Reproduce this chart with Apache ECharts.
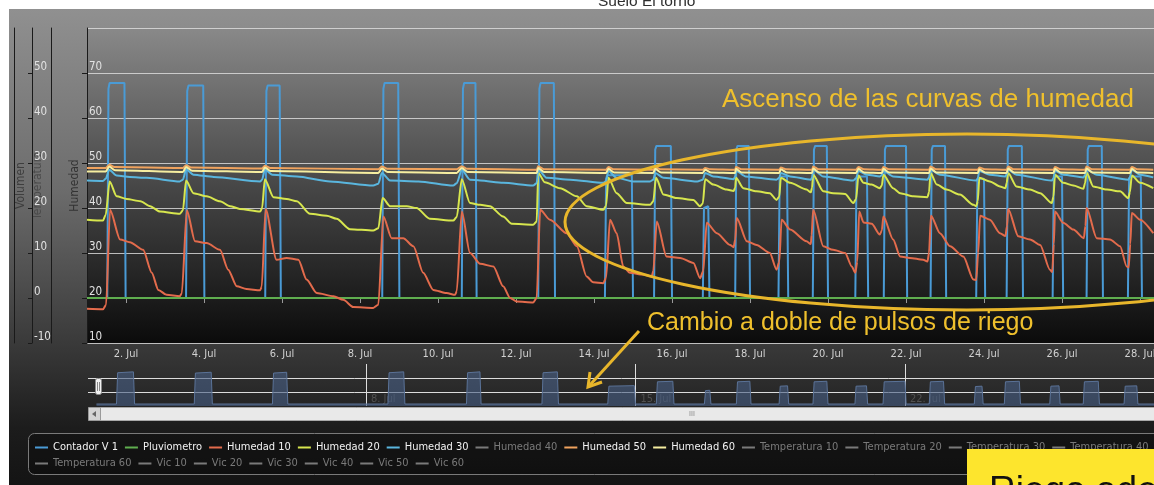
<!DOCTYPE html>
<html>
<head>
<meta charset="utf-8">
<script src="https://cdn.jsdelivr.net/npm/echarts@6.0.0/dist/echarts.min.js"></script>
<style>
  html, body { margin: 0; padding: 0; background: #ffffff; width: 1154px; height: 485px; overflow: hidden; }
  #panel { position: absolute; left: 9px; top: 9px; width: 1145px; height: 476px;
           background: linear-gradient(to bottom, #909090 0%, #6c6c6c 38%, #3a3a3a 70%, #1c1c1c 88%, #141414 100%); }
  #chart { position: absolute; left: 0; top: 0; width: 1154px; height: 485px; }
</style>
</head>
<body>
<div id="panel"></div>
<div id="chart"></div>
<script>
// ---- DATA (x = day of July, e.g. 1.5 = 1 Jul 12:00) ----
const xTickDays = [2, 4, 6, 8, 10, 12, 14, 16, 18, 20, 22, 24, 26, 28];
const navTickDays = [8, 15, 22];

const contadorV1 = [
  [1.00,20],
  [1.52,20],[1.55,66.5],[1.58,67.8],[1.96,67.8],[1.99,20],
  [3.54,20],[3.57,66],[3.60,67.2],[3.98,67.2],[4.01,20],
  [5.57,20],[5.60,66],[5.63,67.2],[5.94,67.2],[5.97,20],
  [8.57,20],[8.60,66.5],[8.63,67.8],[8.98,67.8],[9.01,20],
  [10.61,20],[10.64,66.5],[10.67,67.8],[10.96,67.8],[10.99,20],
  [12.57,20],[12.60,66.5],[12.63,67.8],[12.97,67.8],[13.00,20],
  [14.28,20],[14.31,46.5],[14.34,47.3],[14.97,47.3],[15.00,20],
  [15.54,20],[15.57,53],[15.60,53.8],[15.97,53.8],[16.00,20],
  [16.79,20],[16.82,40],[16.85,40.4],[16.93,40.4],[16.96,20],
  [17.62,20],[17.65,53],[17.68,53.8],[17.97,53.8],[18.00,20],
  [18.73,20],[18.76,46.5],[18.79,47],[18.95,47],[18.98,20],
  [19.61,20],[19.64,53],[19.67,53.8],[19.97,53.8],[20.00,20],
  [20.70,20],[20.73,46.5],[20.76,47],[21.00,47],[21.03,20],
  [21.43,20],[21.46,53],[21.49,53.8],[22.00,53.8],[22.03,20],
  [22.63,20],[22.66,53],[22.69,53.8],[23.00,53.8],[23.03,20],
  [23.80,20],[23.83,46],[23.86,46.5],[24.00,46.5],[24.03,20],
  [24.58,20],[24.61,53],[24.64,53.8],[24.97,53.8],[25.00,20],
  [25.76,20],[25.79,46.5],[25.82,47],[26.00,47],[26.03,20],
  [26.63,20],[26.66,53],[26.69,53.8],[27.02,53.8],[27.05,20],
  [27.69,20],[27.72,46.5],[27.75,47],[28.02,47],[28.05,20],
  [28.55,20],[28.58,53],[28.61,53.8],[28.97,53.8],[29.00,20],
  [30.00,20]
];

const pluviometro = [[1, 20], [30, 20]];

const humedad10 = [
  [1.00,17.6],[1.41,17.5],[1.49,18.5],[1.59,39.6],[1.85,33.0],[2.10,32.4],[2.44,30.7],[2.66,25.6],[2.83,21.8],[3.04,20.7],[3.38,20.4],
  [3.43,21],[3.56,39.5],[3.77,32.6],[4.07,32.2],[4.41,30.7],[4.62,26.3],[4.84,22.6],[5.09,22.0],[5.44,21.7],
  [5.48,22.5],[5.58,39.8],[5.86,28.5],[6.12,28.9],[6.42,28.5],[6.63,24.1],[6.89,21.1],[7.32,20.4],[7.57,19.6],[7.83,18.0],[8.34,17.8],
  [8.47,18.5],[8.60,38.1],[8.81,33.3],[9.11,33.3],[9.37,31.5],[9.62,25.6],[9.88,21.8],[10.22,21.1],[10.44,20.7],
  [10.48,21.5],[10.61,39.2],[10.82,30.0],[11.08,27.6],[11.42,27.0],[11.67,22.6],[11.85,20.0],[12.02,19.2],[12.44,19.0],
  [12.53,20],[12.62,39.6],[12.87,37.4],[13.30,34.4],[13.56,31.5],[13.81,24.8],[13.98,23.5],[14.24,23.3],
  [14.31,24.5],[14.41,37.4],[14.58,34.4],[14.75,27.0],[14.92,25.6],[15.26,25.2],[15.48,24.8],
  [15.52,26],[15.61,37.0],[15.86,29.2],[16.21,28.9],[16.55,27.8],[16.72,24.4],
  [16.80,26],[16.89,36.7],[17.15,34.4],[17.49,31.8],[17.58,31.3],
  [17.62,33],[17.66,37.8],[17.92,32.6],[18.17,31.8],[18.51,30.0],[18.68,26.3],
  [18.75,28],[18.81,37.4],[19.03,35.2],[19.45,32.6],[19.56,32.0],
  [19.58,34],[19.62,39.6],[19.88,31.5],[20.13,30.7],[20.44,30.0],[20.61,27.0],[20.70,25.6],
  [20.75,28],[20.80,39.2],[20.91,36.8],[21.12,36.5],[21.33,34.1],
  [21.38,35],[21.42,38.1],[21.67,33.0],[21.85,29.2],[22.10,28.9],[22.44,28.5],[22.55,28.1],
  [22.59,30],[22.64,38.3],[22.87,34.4],[23.13,31.5],[23.47,29.2],[23.73,24.1],[23.80,24.0],
  [23.85,30],[23.90,38.3],[24.15,37.4],[24.41,34.4],[24.55,33.8],
  [24.59,36],[24.62,39.8],[24.88,33.7],[25.18,33.0],[25.44,31.8],[25.69,26.3],[25.75,25.8],
  [25.79,32],[25.82,39.2],[26.03,36.7],[26.29,35.2],[26.56,33.3],
  [26.60,36],[26.63,40.0],[26.89,33.3],[27.23,33.0],[27.49,31.5],[27.66,27.0],[27.71,26.8],
  [27.75,32],[27.79,38.9],[28.00,37.4],[28.34,34.4]
];

const humedad20 = [
  [1.00,37.4],[1.41,37.2],[1.48,38.5],[1.58,45.9],[1.76,42.6],[2.02,42.0],[2.37,41.5],[2.62,40.4],[2.87,39.2],[3.38,38.7],
  [3.46,39.5],[3.54,46.1],[3.73,43.3],[4.07,42.6],[4.41,41.5],[4.67,40.4],[4.92,39.8],[5.44,39.2],
  [5.49,40],[5.56,46.4],[5.78,42.4],[6.12,42.0],[6.38,41.5],[6.72,38.7],[7.15,38.3],[7.40,37.6],[7.74,35.3],[8.34,35.0],
  [8.47,35.5],[8.58,42.2],[8.77,40.4],[9.20,40.4],[9.45,40.0],[9.79,37.6],[10.39,37.2],
  [10.48,38],[10.61,46.4],[10.82,41.1],[11.08,40.7],[11.33,40.4],[11.67,38.1],[11.89,36.5],[12.44,36.3],
  [12.53,37],[12.57,47.8],[12.74,45.7],[13.13,44.4],[13.56,42.6],[13.81,40.4],[14.24,39.6],
  [14.31,40.5],[14.37,46.7],[14.58,43.3],[14.84,41.1],[15.44,40.7],
  [15.52,41.5],[15.59,46.7],[15.78,43.0],[16.12,42.2],[16.55,41.8],[16.72,40.4],
  [16.79,41],[16.85,46.4],[17.06,45.2],[17.40,44.1],[17.58,43.8],
  [17.62,44.5],[17.64,46.7],[17.83,44.4],[18.17,43.7],[18.51,43.3],[18.68,41.8],
  [18.75,42.5],[18.79,46.7],[19.03,45.6],[19.45,44.1],[19.56,43.5],
  [19.59,44.5],[19.62,47.4],[19.88,43.7],[20.13,43.3],[20.44,43.1],[20.65,41.1],
  [20.72,42],[20.78,47.2],[20.91,45.6],[21.12,45.2],[21.33,44.4],
  [21.38,45],[21.42,47.4],[21.67,44.4],[21.85,43.3],[22.19,42.6],[22.55,42.4],
  [22.59,43.5],[22.63,47.8],[22.79,45.2],[23.04,44.1],[23.38,43.0],[23.73,40.7],[23.80,40.4],
  [23.84,41.5],[23.88,46.7],[24.15,45.9],[24.41,44.8],[24.55,44.4],
  [24.58,45.5],[24.62,47.8],[24.83,44.8],[25.18,44.1],[25.44,43.3],[25.74,41.1],
  [25.78,42.5],[25.82,47.4],[26.03,45.6],[26.29,45.0],[26.55,44.3],
  [26.59,45.5],[26.63,47.9],[26.80,44.8],[27.15,44.1],[27.49,43.7],[27.70,42.2],
  [27.74,43.5],[27.79,47.2],[28.00,45.6],[28.34,44.4]
];

const humedad30 = [
  [1.00,46.1],[1.41,46.0],[1.48,46.5],[1.57,48.5],[1.76,47.2],[2.10,46.9],[2.53,46.7],[3.38,45.9],
  [3.46,46.3],[3.54,48.6],[3.73,47.4],[4.25,46.9],[5.44,45.9],
  [5.49,46.3],[5.56,48.6],[5.75,47.4],[6.38,47.0],[7.23,45.9],[8.34,45.0],
  [8.47,45.4],[8.56,47.8],[8.77,46.1],[9.50,45.9],[10.39,45.0],
  [10.48,45.5],[10.61,48.5],[10.82,46.3],[11.08,46.1],[11.67,45.6],[12.44,45.0],
  [12.53,45.5],[12.57,48.5],[12.79,46.7],[13.39,46.3],[14.24,45.6],
  [14.31,46],[14.37,48.2],[14.58,46.7],[15.01,45.9],[15.44,45.9],
  [15.52,46.3],[15.57,47.8],[15.78,46.7],[16.65,45.9],
  [16.79,46.3],[16.85,47.8],[17.06,47.0],[17.58,46.4],
  [17.62,47],[17.64,48.3],[17.89,47.0],[18.68,46.3],
  [18.75,46.7],[18.79,47.8],[19.03,47.0],[19.56,46.3],
  [19.59,46.8],[19.62,48.5],[19.88,47.0],[20.65,46.1],
  [20.72,46.6],[20.78,48.2],[21.00,47.4],[21.33,47.0],
  [21.38,47.3],[21.42,48.3],[21.67,47.0],[22.55,46.3],
  [22.59,46.8],[22.63,48.5],[22.87,47.4],[23.80,46.1],
  [23.84,46.6],[23.88,48.2],[24.15,47.4],[24.55,47.0],
  [24.58,47.5],[24.62,48.5],[24.83,47.4],[25.74,46.1],
  [25.78,46.6],[25.82,48.3],[26.03,47.4],[26.55,46.8],
  [26.59,47.3],[26.63,48.6],[26.89,47.4],[27.70,46.3],
  [27.74,46.8],[27.79,48.5],[28.00,47.4],[28.34,46.8]
];

const humedad50 = [
  [1.00,48.9],[1.48,48.9],[1.57,49.6],[1.70,49.1],[3.46,48.9],[3.54,49.5],[3.67,49.0],[5.49,48.8],[5.56,49.4],[5.70,48.9],
  [8.47,48.6],[8.56,49.2],[8.70,48.7],[10.48,48.6],[10.61,49.3],[10.75,48.7],[12.53,48.5],[12.57,49.3],[12.72,48.6],
  [14.31,48.5],[14.37,49.1],[14.50,48.6],[15.52,48.5],[15.57,49.1],[15.70,48.6],[16.79,48.5],[16.85,48.9],[16.98,48.6],
  [17.62,48.5],[17.64,49.1],[17.78,48.6],[18.75,48.5],[18.79,49.0],[18.92,48.6],[19.59,48.5],[19.62,49.2],[19.76,48.6],
  [20.72,48.5],[20.78,49.1],[20.92,48.6],[21.38,48.5],[21.42,49.1],[21.56,48.6],[22.59,48.5],[22.63,49.2],[22.77,48.6],
  [23.84,48.5],[23.88,49.0],[24.02,48.6],[24.58,48.5],[24.62,49.2],[24.76,48.6],[25.78,48.5],[25.82,49.1],[25.96,48.6],
  [26.59,48.5],[26.63,49.2],[26.77,48.6],[27.74,48.5],[27.79,49.1],[27.93,48.6],[28.34,48.5]
];

const humedad60 = [
  [1.00,48.1],[1.48,48.1],[1.57,49.2],[1.72,48.4],[3.46,48.0],[3.54,49.1],[3.69,48.3],[5.49,48.0],[5.56,49.0],[5.71,48.2],
  [8.47,47.8],[8.56,48.8],[8.71,48.0],[10.48,47.8],[10.61,48.9],[10.76,48.0],[12.53,47.8],[12.57,48.9],[12.72,48.0],
  [14.31,47.8],[14.37,48.7],[14.52,47.9],[15.52,47.8],[15.57,48.7],[15.72,47.9],[16.79,47.8],[16.85,48.5],[17.00,47.9],
  [17.62,47.8],[17.64,48.7],[17.79,47.9],[18.75,47.8],[18.79,48.6],[18.94,47.9],[19.59,47.8],[19.62,48.8],[19.77,47.9],
  [20.72,47.8],[20.78,48.7],[20.93,47.9],[21.38,47.8],[21.42,48.7],[21.57,47.9],[22.59,47.8],[22.63,48.8],[22.78,47.9],
  [23.84,47.8],[23.88,48.6],[24.03,47.9],[24.58,47.8],[24.62,48.8],[24.77,47.9],[25.78,47.8],[25.82,48.7],[25.97,47.9],
  [26.59,47.8],[26.63,48.8],[26.78,47.9],[27.74,47.8],[27.79,48.7],[27.94,47.9],[28.34,47.8]
];

const legendRow1 = ['Contador V 1','Pluviometro','Humedad 10','Humedad 20','Humedad 30','Humedad 40','Humedad 50','Humedad 60',
                    'Temperatura 10','Temperatura 20','Temperatura 30','Temperatura 40','Temperatura 50'];
const legendRow2 = ['Temperatura 60','Vic 10','Vic 20','Vic 30','Vic 40','Vic 50','Vic 60'];
const hiddenNames = ['Humedad 40','Temperatura 10','Temperatura 20','Temperatura 30','Temperatura 40','Temperatura 50',
                     'Temperatura 60','Vic 10','Vic 20','Vic 30','Vic 40','Vic 50','Vic 60'];

// ---- STYLE ----
const COND = '"DejaVu Sans Condensed","Liberation Sans",sans-serif';
const SANS = '"Liberation Sans",Arial,sans-serif';
const ANN = '#efc02d';

const visible = [
  { name: 'Contador V 1', data: contadorV1, color: '#4a9bd6', yAxisIndex: 2, smooth: false },
  { name: 'Pluviometro', data: pluviometro, color: '#5fae4f', yAxisIndex: 0, smooth: false },
  { name: 'Humedad 10', data: humedad10, color: '#e36b4c', yAxisIndex: 0, smooth: 0.25 },
  { name: 'Humedad 20', data: humedad20, color: '#d7e64e', yAxisIndex: 0, smooth: 0.25 },
  { name: 'Humedad 30', data: humedad30, color: '#5ab6de', yAxisIndex: 0, smooth: 0.25 },
  { name: 'Humedad 50', data: humedad50, color: '#f0a35e', yAxisIndex: 0, smooth: 0.25 },
  { name: 'Humedad 60', data: humedad60, color: '#f6eea0', yAxisIndex: 0, smooth: 0.25 }
];

const series = [];
visible.forEach(s => series.push({
  type: 'line', name: s.name, data: s.data, xAxisIndex: 0, yAxisIndex: s.yAxisIndex,
  showSymbol: false, symbol: 'none', smooth: s.smooth, smoothMonotone: 'x',
  color: s.color, lineStyle: { color: s.color, width: 2 }, silent: true
}));
hiddenNames.forEach(n => series.push({
  type: 'line', name: n, data: [], xAxisIndex: 0, yAxisIndex: n.startsWith('Temperatura') ? 1 : (n.startsWith('Vic') ? 3 : 0),
  showSymbol: false, color: '#888'
}));
// navigator
series.push({
  type: 'line', name: 'navigator', data: contadorV1, xAxisIndex: 1, yAxisIndex: 4,
  showSymbol: false, symbol: 'none', silent: true,
  lineStyle: { color: '#5b7398', width: 1 },
  areaStyle: { color: 'rgba(72,94,132,0.88)', origin: 'start' }
});

const selected = {};
hiddenNames.forEach(n => selected[n] = false);

const legendBase = {
  orient: 'horizontal', icon: 'rect', itemWidth: 13, itemHeight: 2, itemGap: 7, padding: 0, width: 1800,
  textStyle: { color: '#f2f2f2', fontSize: 11, fontFamily: COND },
  inactiveColor: '#7a7a7a', selected: selected, selectedMode: false
};

const option = {
  animation: false,
  title: { text: 'Suelo El torno', left: 593, top: -11,
           textStyle: { fontSize: 15.5, fontFamily: SANS, color: '#2e2e2e', fontWeight: 'normal' } },
  legend: [
    Object.assign({}, legendBase, { data: legendRow1, left: 35, top: 442 }),
    Object.assign({}, legendBase, { data: legendRow2, left: 35, top: 458 })
  ],
  grid: [
    { left: 87, top: 28, right: -64, bottom: 142, show: true, borderWidth: 0, outerBoundsMode: 'none',
      backgroundColor: { type: 'linear', x: 0, y: 0, x2: 0, y2: 1,
        colorStops: [{ offset: 0, color: '#898989' }, { offset: 0.5, color: '#474747' }, { offset: 1, color: '#0b0b0b' }] } },
    { left: 88, top: 364, right: -64, bottom: 79, show: false, outerBoundsMode: 'none' }
  ],
  xAxis: [
    { type: 'value', gridIndex: 0, min: 1, max: 30,
      axisLine: { show: false },
      axisTick: { show: true, customValues: xTickDays, length: 5, lineStyle: { color: '#9a9a9a' } },
      axisLabel: { customValues: xTickDays, formatter: v => v + '. Jul', color: '#d2d2d2', fontSize: 11, fontFamily: COND, margin: 6 },
      splitLine: { show: false } },
    { type: 'value', gridIndex: 1, min: 0.78, max: 30.13,
      axisLine: { show: false },
      axisTick: { show: false, customValues: navTickDays },
      axisLabel: { customValues: navTickDays, inside: true, formatter: v => v + '. Jul', color: '#505050', fontSize: 11,
                   fontFamily: COND, align: 'left', margin: 1, padding: [0, 0, 0, 5] },
      splitLine: { show: true, customValues: navTickDays, lineStyle: { color: '#dedede', width: 1 } } }
  ],
  yAxis: [
    { type: 'value', gridIndex: 0, position: 'left', offset: 0, min: 10, max: 80, interval: 10,
      name: 'Humedad', nameLocation: 'middle', nameGap: 6, nameMoveOverlap: false,
      nameTextStyle: { color: '#333', fontSize: 12, fontFamily: COND },
      axisLine: { show: true, lineStyle: { color: '#1a1a1a', width: 1 } },
      axisTick: { show: true, length: 5, lineStyle: { color: '#1a1a1a' } },
      axisLabel: { inside: true, verticalAlign: 'bottom', margin: 2, showMaxLabel: false, color: '#e2e2e2', fontSize: 11.5, fontFamily: COND },
      splitLine: { show: true, lineStyle: { color: 'rgba(225,225,225,0.8)', width: 1 } } },
    { type: 'value', gridIndex: 0, position: 'left', offset: 55, min: -10, max: 60, interval: 10,
      name: 'Temperatura', nameLocation: 'middle', nameGap: -12, nameMoveOverlap: false,
      nameTextStyle: { color: '#4a4a4a', fontSize: 12, fontFamily: COND },
      axisLine: { show: true, lineStyle: { color: '#1a1a1a', width: 1 } },
      axisTick: { show: true, length: 4, lineStyle: { color: '#1a1a1a' } },
      axisLabel: { inside: true, verticalAlign: 'bottom', margin: 2, showMaxLabel: false, color: '#e2e2e2', fontSize: 11.5, fontFamily: COND },
      splitLine: { show: false } },
    { type: 'value', gridIndex: 0, position: 'left', offset: 73, min: 10, max: 80,
      name: 'Volumen', nameLocation: 'middle', nameGap: -13, nameMoveOverlap: false,
      nameTextStyle: { color: '#3e3e3e', fontSize: 12, fontFamily: COND },
      axisLine: { show: true, lineStyle: { color: '#1a1a1a', width: 1 } },
      axisTick: { show: false }, axisLabel: { show: false }, splitLine: { show: false } },
    { type: 'value', gridIndex: 0, position: 'left', offset: 36, min: 0, max: 1,
      axisLine: { show: true, lineStyle: { color: '#1a1a1a', width: 1 } },
      axisTick: { show: false }, axisLabel: { show: false }, splitLine: { show: false } },
    { type: 'value', gridIndex: 1, min: 17.06, max: 79.46, interval: 20.8,
      axisLine: { show: false }, axisTick: { show: false }, axisLabel: { show: false },
      splitLine: { show: true, showMinLine: false, showMaxLine: false, lineStyle: { color: '#dcdcdc', width: 1 } } }
  ],
  series: series,
  graphic: [
    // legend frame
    { type: 'rect', z: 1, silent: true, shape: { x: 28.5, y: 433.5, width: 1140, height: 41, r: 6 },
      style: { fill: 'rgba(0,0,0,0.25)', stroke: '#7a7a7a', lineWidth: 1 } },
    // scrollbar
    { type: 'rect', z: 50, silent: true, shape: { x: 88.5, y: 407.5, width: 1080, height: 13, r: 2 },
      style: { fill: '#e9e9e9', stroke: '#a9a9a9', lineWidth: 1 } },
    { type: 'rect', z: 51, silent: true, shape: { x: 88.5, y: 407.5, width: 12, height: 13 },
      style: { fill: '#d4d4d4', stroke: '#9a9a9a', lineWidth: 1 } },
    { type: 'polygon', z: 52, silent: true, shape: { points: [[96, 411], [92, 414], [96, 417]] }, style: { fill: '#666' } },
    { type: 'text', z: 52, silent: true, style: { text: 'III', x: 692, y: 414, fontSize: 7, fill: '#888',
      textAlign: 'center', textVerticalAlign: 'middle', fontFamily: SANS } },
    // navigator handle
    { type: 'rect', z: 52, silent: true, shape: { x: 95.5, y: 378.5, width: 6, height: 16, r: 2 },
      style: { fill: '#f2f2f2', stroke: '#8a8a8a', lineWidth: 1 } },
    { type: 'line', z: 53, silent: true, shape: { x1: 97.5, y1: 382, x2: 97.5, y2: 391 }, style: { stroke: '#888', lineWidth: 1 } },
    { type: 'line', z: 53, silent: true, shape: { x1: 99.5, y1: 382, x2: 99.5, y2: 391 }, style: { stroke: '#888', lineWidth: 1 } },
    // annotations
    { type: 'ellipse', z: 100, silent: true, shape: { cx: 967, cy: 222, rx: 402, ry: 88 },
      style: { fill: 'none', stroke: '#e8b62b', lineWidth: 3 } },
    { type: 'text', z: 100, silent: true, style: { text: 'Ascenso de las curvas de humedad', x: 722, y: 100,
      fill: ANN, fontSize: 26, fontFamily: SANS, textVerticalAlign: 'middle' } },
    { type: 'text', z: 100, silent: true, style: { text: 'Cambio a doble de pulsos de riego', x: 647, y: 323,
      fill: ANN, fontSize: 25, fontFamily: SANS, textVerticalAlign: 'middle' } },
    { type: 'polyline', z: 100, silent: true, shape: { points: [[639, 331], [589, 386]] },
      style: { stroke: '#e8b62b', lineWidth: 3 } },
    { type: 'polyline', z: 100, silent: true, shape: { points: [[590, 372], [588, 387], [602, 382]] },
      style: { stroke: '#e8b62b', lineWidth: 3, fill: 'none' } },
    // yellow note box
    { type: 'rect', z: 110, silent: true, shape: { x: 967, y: 449, width: 200, height: 40 }, style: { fill: '#fde52d' } },
    { type: 'text', z: 111, silent: true, style: { text: 'Riego ade', x: 989, y: 473, fill: '#111',
      fontSize: 37, fontFamily: SANS, textVerticalAlign: 'top' } }
  ]
};

const chart = echarts.init(document.getElementById('chart'), null, { renderer: 'canvas', width: 1154, height: 485 });
chart.setOption(option);
</script>
</body>
</html>
